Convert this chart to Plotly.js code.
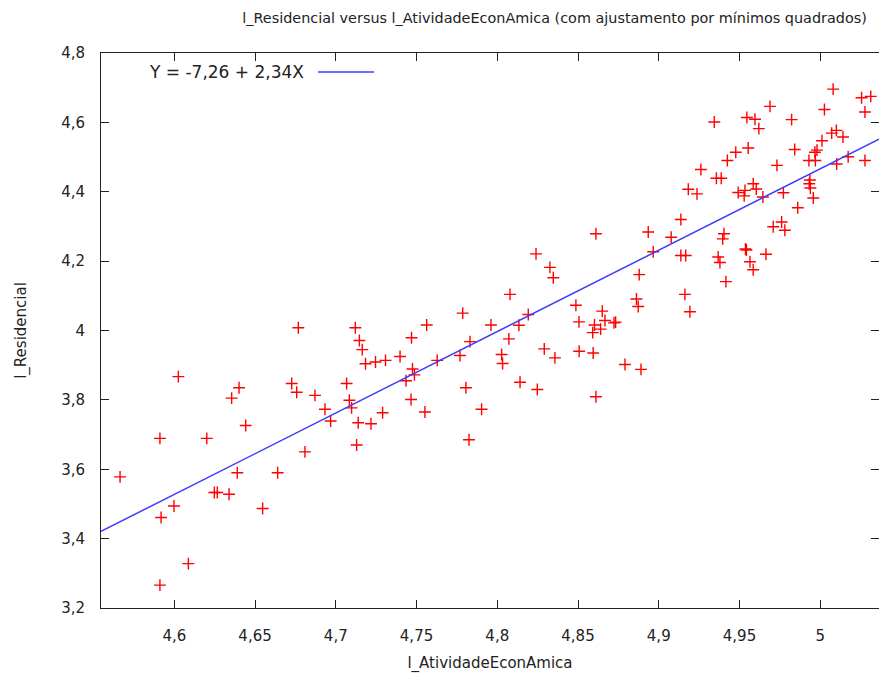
<!DOCTYPE html>
<html>
<head>
<meta charset="utf-8">
<script src="https://cdn.plot.ly/plotly-3.0.1.min.js"></script>
<style>html,body{margin:0;padding:0;background:#fff;}#chart{width:879px;height:673px;}</style>
</head>
<body>
<div id="chart"></div>
<script>
// l_AtividadeEconAmica (x) and l_Residencial (y)
const atividade = [
4.6025,4.5911,4.6201,4.6355,4.6401,4.6442,4.6727,4.6758,4.6768,4.5664,
4.6390,4.6640,4.6248,4.6266,4.6339,4.5998,4.5918,4.6547,4.6087,4.5911,
4.7121,4.7146,4.7164,4.7184,4.7246,4.7308,4.7398,4.7469,4.7563,4.7786,
4.7961,4.7475,4.7487,4.7435,4.7628,4.7769,4.7831,4.6871,4.7067,4.7084,
4.7098,4.6933,4.6968,4.7139,4.7218,4.7290,4.7466,4.7552,4.7806,4.7903,
4.7129,4.6809,4.7825,4.8611,4.8935,4.8966,4.8240,4.8326,4.8347,4.8879,
4.8079,4.8487,4.8862,4.8873,4.8192,4.8134,4.8650,4.8506,4.8602,4.8667,
4.8640,4.8591,4.8723,4.8733,4.8072,4.8291,4.8357,4.8507,4.8594,4.8027,
4.8033,4.8791,4.8890,4.8141,4.8248,4.8611,5.0080,5.0256,5.0313,5.0277,
5.0026,4.9689,4.9344,4.9546,4.9596,4.9620,4.9823,5.0011,5.0071,5.0100,
5.0141,4.9477,4.9554,4.9842,4.9980,4.9967,4.9930,4.9970,5.0102,5.0173,
5.0277,4.9425,4.9261,4.9732,4.9357,4.9387,4.9183,4.9237,4.9492,4.9534,
4.9529,4.9585,4.9604,4.9645,4.9772,4.9936,4.9932,4.9939,4.9957,4.9861,
4.9137,4.9077,4.9404,4.9396,4.9709,4.9761,4.9781,4.9137,4.9167,4.9368,
4.9379,4.9537,4.9543,4.9565,4.9585,4.9664,4.9416,4.9162,4.9193
];
const residencial = [
3.867,3.689,3.689,3.805,3.835,3.726,3.847,3.822,4.008,3.578,
3.590,3.590,3.533,3.533,3.528,3.494,3.461,3.487,3.328,3.266,
4.008,3.971,3.945,3.904,3.909,3.914,3.925,3.979,4.016,4.050,
4.016,3.889,3.872,3.855,3.914,3.928,3.968,3.813,3.847,3.799,
3.777,3.773,3.739,3.734,3.731,3.763,3.801,3.765,3.835,3.773,
3.670,3.650,3.685,4.279,4.284,4.227,4.221,4.182,4.152,4.161,
4.104,4.073,4.091,4.069,4.046,4.015,4.056,4.025,4.016,4.029,
4.004,3.994,4.022,4.024,3.976,3.947,3.921,3.940,3.935,3.931,
3.905,3.902,3.888,3.851,3.830,3.809,4.696,4.671,4.675,4.630,
4.637,4.646,4.601,4.614,4.609,4.582,4.608,4.547,4.569,4.577,
4.558,4.514,4.526,4.522,4.520,4.514,4.490,4.490,4.480,4.501,
4.490,4.490,4.464,4.476,4.439,4.439,4.407,4.394,4.398,4.404,
4.388,4.423,4.408,4.385,4.397,4.434,4.423,4.411,4.382,4.354,
4.320,4.269,4.279,4.264,4.299,4.313,4.289,4.216,4.216,4.212,
4.196,4.235,4.232,4.198,4.175,4.220,4.141,4.104,4.054
];
const xTickVals = [4.6,4.65,4.7,4.75,4.8,4.85,4.9,4.95,5];
const xTickText = ['4,6','4,65','4,7','4,75','4,8','4,85','4,9','4,95','5'];
const yTickVals = [3.2,3.4,3.6,3.8,4,4.2,4.4,4.6,4.8];
const yTickText = ['3,2','3,4','3,6','3,8','4','4,2','4,4','4,6','4,8'];
const xRange = [4.5546, 5.0364];
const yRange = [3.2, 4.8];
const fitLabel = 'Y = -7,26 + 2,34X';

// least squares fit
const n = atividade.length;
let sx=0, sy=0, sxx=0, sxy=0;
for (let i=0;i<n;i++){ sx+=atividade[i]; sy+=residencial[i]; sxx+=atividade[i]*atividade[i]; sxy+=atividade[i]*residencial[i]; }
const slope = (n*sxy - sx*sy)/(n*sxx - sx*sx);
const intercept = (sy - slope*sx)/n;
const fitX = xRange.slice();
const fitY = fitX.map(v => intercept + slope*v);

const font = 'DejaVu Sans, sans-serif';
const axisColor = '#222';

const data = [
  {x: atividade, y: residencial, type: 'scatter', mode: 'markers', showlegend: false,
   marker: {symbol: 'cross-thin', size: 8.5, color: '#ff0000', line: {color: '#ff0000', width: 1.4}}},
  {x: fitX, y: fitY, type: 'scatter', mode: 'lines', showlegend: false,
   line: {color: '#3c3cff', width: 1.5}}
];

const layout = {
  width: 879, height: 673,
  margin: {l: 101, r: 0, t: 53, b: 65},
  paper_bgcolor: '#fff', plot_bgcolor: '#fff',
  font: {family: font, size: 14, color: axisColor},
  title: {text: 'l_Residencial versus l_AtividadeEconAmica (com ajustamento por mínimos quadrados)',
          font: {family: font, size: 14.4, color: '#222'},
          xref: 'paper', x: 0.583, xanchor: 'center', yref: 'container', y: 0.973, yanchor: 'middle'},
  xaxis: {range: xRange, tickvals: xTickVals, ticktext: xTickText, showgrid: false, zeroline: false,
          showline: true, linecolor: axisColor, linewidth: 1, mirror: 'ticks', ticks: 'inside', ticklen: 8,
          tickcolor: axisColor, tickwidth: 1, ticklabelstandoff: 14, tickfont: {size: 15},
          title: {text: 'l_AtividadeEconAmica', font: {size: 15}, standoff: 14}},
  yaxis: {range: yRange, tickvals: yTickVals, ticktext: yTickText, showgrid: false, zeroline: false,
          showline: true, linecolor: axisColor, linewidth: 1, mirror: 'ticks', ticks: 'inside', ticklen: 8,
          tickcolor: axisColor, tickwidth: 1, ticklabelstandoff: 12, tickfont: {size: 15},
          title: {text: 'l_Residencial', font: {size: 15}, standoff: 30}},
  annotations: [
    {text: fitLabel, xref: 'paper', yref: 'paper', x: (147-101)/778, y: 1 - (72-53)/555,
     xanchor: 'left', yanchor: 'middle', showarrow: false, font: {family: font, size: 17, color: '#222'}}
  ],
  shapes: [
    {type: 'line', xref: 'paper', yref: 'paper', x0: (318-101)/778, x1: (374-101)/778,
     y0: 1 - (72-53)/555, y1: 1 - (72-53)/555, line: {color: '#3c3cff', width: 1.5}}
  ]
};

Plotly.newPlot('chart', data, layout, {displayModeBar: false, staticPlot: true});
</script>
</body>
</html>
